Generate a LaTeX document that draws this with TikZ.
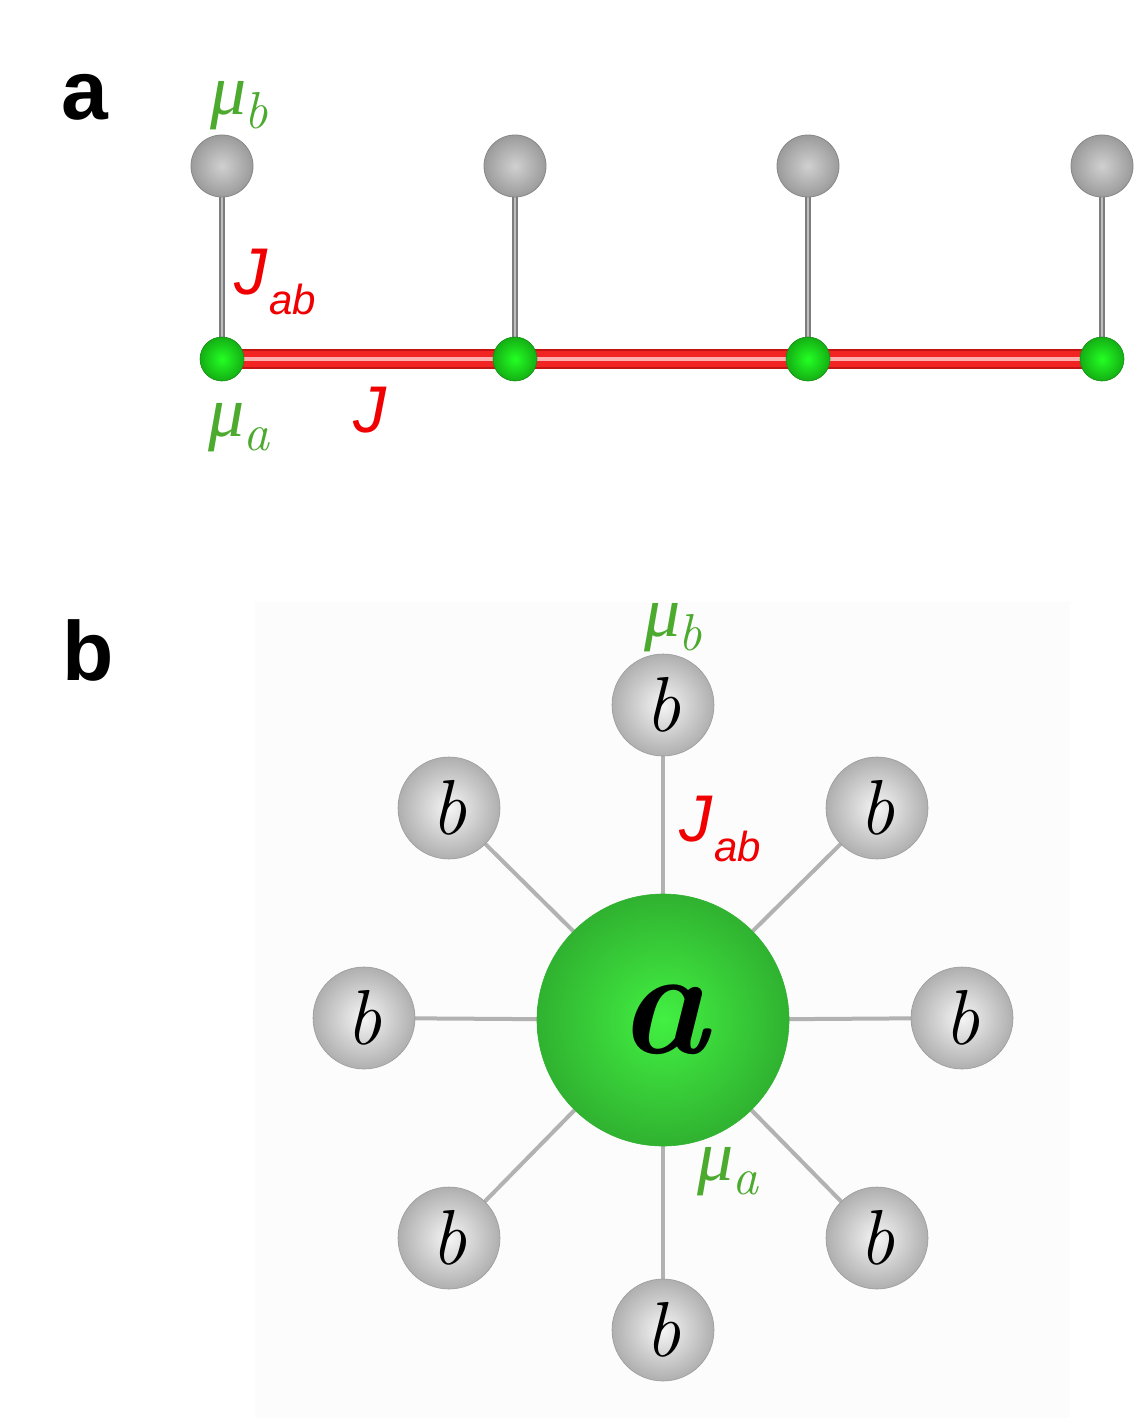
\documentclass[tikz,border=0pt]{standalone}
\usepackage{fontspec}
\newfontfamily\hv{Liberation Sans}
\newfontfamily\lsr{Liberation Serif}
\pgfdeclarelayer{back}
\pgfdeclarelayer{bg}
\pgfsetlayers{back,bg,main}
\definecolor{muGreen}{RGB}{76,170,46}
\definecolor{jRed}{RGB}{240,0,0}
\definecolor{ballEdge}{RGB}{135,135,135}
\definecolor{ballIn}{RGB}{208,208,208}
\definecolor{ballOut}{RGB}{155,155,155}
\definecolor{satIn}{RGB}{245,245,245}
\definecolor{satOut}{RGB}{175,175,175}
\definecolor{satEdge}{RGB}{155,155,155}
\definecolor{gIn}{RGB}{35,255,35}
\definecolor{gOut}{RGB}{20,175,20}
\definecolor{gEdge}{RGB}{20,140,20}
\definecolor{bgIn}{RGB}{66,240,66}
\definecolor{bgOut}{RGB}{48,178,48}
\definecolor{barDark}{RGB}{195,20,20}
\definecolor{barRed}{RGB}{242,35,35}
\definecolor{barLight}{RGB}{255,175,175}
\definecolor{stickDark}{RGB}{125,125,125}
\definecolor{stickLight}{RGB}{190,190,190}
\definecolor{spoke}{RGB}{178,178,178}
\definecolor{panelBg}{RGB}{252,252,252}
\newcommand{\mulab}[1]{{\lsr\itshape μ}\kern-1pt\raisebox{-7pt}{\fontsize{26}{26}\selectfont\itshape #1}}
\newcommand{\jlab}{J\kern1pt\raisebox{-10pt}{\fontsize{21}{22}\selectfont ab}}
\begin{document}
\begin{tikzpicture}[x=0.5pt,y=-0.5pt,
  grayball/.style={circle, minimum size=31pt, inner sep=0pt, draw=ballEdge, line width=0.4pt, inner color=ballIn, outer color=ballOut},
  greenball/.style={circle, minimum size=22pt, inner sep=0pt, draw=gEdge, line width=0.3pt, inner color=gIn, outer color=gOut},
  satball/.style={circle, minimum size=51pt, inner sep=0pt, draw=satEdge, line width=0.3pt, inner color=satIn, outer color=satOut, font=\fontsize{39}{40}\selectfont\itshape},
  bigball/.style={circle, minimum size=126pt, inner sep=0pt, draw=bgOut, line width=0.3pt, inner color=bgIn, outer color=bgOut, font=\fontsize{76}{76}\selectfont\bfseries\itshape},
  mulabel/.style={text=muGreen, inner sep=0pt, font=\fontsize{36}{40}\selectfont},
  jlabel/.style={text=jRed, inner sep=0pt, font=\hv\fontsize{33}{36}\selectfont\itshape},
  panellabel/.style={inner sep=0pt, font=\hv\bfseries\fontsize{42}{44}\selectfont},
  stickouter/.style={stickDark, line width=2.6pt},
  stickinner/.style={stickLight, line width=1.1pt},
  barouter/.style={barDark, line width=9.6pt},
  barmid/.style={barRed, line width=7.6pt},
  barinner/.style={barLight, line width=1.6pt},
  spokeline/.style={spoke, line width=2pt}
]
\useasboundingbox (0,0) rectangle (1140,1418);
\begin{pgfonlayer}{back}
\fill[panelBg] (255,602) rectangle (1070,1418);
\end{pgfonlayer}

% panel labels
\node[panellabel] (la) at (85,97) {a};
\node[panellabel] (lb) at (88,650) {b};

% panel a
\foreach \i/\x in {1/222,2/515,3/808,4/1102}{
  \node[grayball] (t\i) at (\x,166) {};
  \node[greenball] (g\i) at (\x,359) {};
}
\begin{pgfonlayer}{bg}
\foreach \i in {1,2,3,4}{
  \draw[stickouter] (t\i.center) -- (g\i.center);
  \draw[stickinner] (t\i.center) -- (g\i.center);
}
\foreach \i/\j in {1/2,2/3,3/4}{
  \draw[barouter] (g\i.center) -- (g\j.center);
  \draw[barmid] (g\i.center) -- (g\j.center);
  \draw[barinner] (g\i.center) -- (g\j.center);
}
\end{pgfonlayer}
\node[mulabel] (mub1) at (239,106) {\mulab{b}};
\node[mulabel] (mua1) at (239,428) {\mulab{a}};
\node[jlabel] (jab1) at (275,282) {\jlab};
\node[jlabel] (j1) at (370,410) {J};

% panel b
\node[bigball] (A) at (663,1020) {a};
\node[satball] (s1) at (663,705) {b};
\node[satball] (s2) at (877,808) {b};
\node[satball] (s3) at (962,1018) {b};
\node[satball] (s4) at (877,1238) {b};
\node[satball] (s5) at (663,1330) {b};
\node[satball] (s6) at (449,1238) {b};
\node[satball] (s7) at (364,1018) {b};
\node[satball] (s8) at (449,808) {b};
\begin{pgfonlayer}{bg}
\foreach \i in {1,...,8}{
  \draw[spokeline] (A.center) -- (s\i.center);
}
\end{pgfonlayer}
\node[mulabel] (mub2) at (673,628) {\mulab{b}};
\node[mulabel] (mua2) at (728,1172) {\mulab{a}};
\node[jlabel] (jab2) at (720,829) {\jlab};
\end{tikzpicture}
\end{document}
